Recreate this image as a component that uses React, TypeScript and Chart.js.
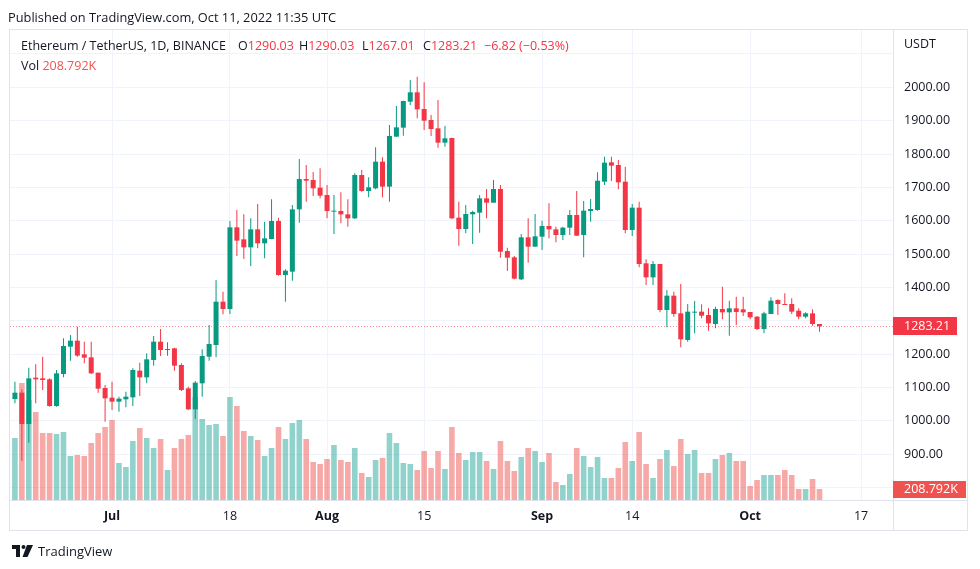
import React, { useEffect, useRef } from "react";
import { Chart, registerables } from "chart.js";

Chart.register(...registerables);

// Daily ETH/USDT candles, Jun 17 2022 .. Oct 11 2022
const opens = [
  1065, 1084, 990, 1129, 1127, 1124, 1044, 1140, 1222, 1240, 1199, 1190, 1144, 1098,
  1069, 1057, 1064, 1070, 1150, 1130, 1182, 1237, 1212, 1217, 1167, 1097, 1034, 1112, 1192, 1227,
  1357, 1335, 1580, 1544, 1520, 1574, 1532, 1545, 1599, 1437, 1447, 1634, 1725, 1722, 1699,
  1677, 1627, 1629, 1619, 1607, 1737, 1689, 1697, 1777, 1702, 1852, 1879, 1957, 1985, 1935,
  1902, 1877, 1834, 1848, 1609, 1575, 1619, 1624, 1667, 1654, 1695, 1509, 1490, 1424, 1550, 1522,
  1552, 1584, 1574, 1557, 1579, 1617, 1557, 1629, 1632, 1717, 1775, 1767, 1717, 1572,
  1639, 1472, 1430, 1470, 1332, 1375, 1322, 1242, 1324, 1327, 1317, 1290, 1335, 1325, 1337, 1334,
  1326, 1312, 1275, 1320, 1362, 1350, 1350, 1330, 1312, 1322, 1290.03,
];
const highs = [
  1117, 1094, 1159, 1169, 1192, 1127, 1152, 1247, 1257, 1282, 1237, 1237, 1144, 1107,
  1117, 1072, 1087, 1157, 1174, 1202, 1254, 1275, 1235, 1219, 1172, 1102, 1119, 1214, 1287, 1422,
  1387, 1599, 1632, 1619, 1607, 1650, 1597, 1664, 1609, 1454, 1647, 1785, 1767, 1746, 1757,
  1707, 1677, 1685, 1664, 1742, 1752, 1730, 1820, 1790, 1887, 1944, 1960, 2022, 2032, 2015,
  1917, 1962, 1884, 1849, 1657, 1647, 1630, 1677, 1695, 1722, 1707, 1519, 1494, 1560, 1607, 1620,
  1600, 1652, 1582, 1582, 1632, 1689, 1659, 1665, 1745, 1792, 1792, 1782, 1762, 1650,
  1657, 1484, 1479, 1470, 1392, 1387, 1410, 1350, 1359, 1349, 1337, 1342, 1402, 1360, 1372, 1372,
  1326, 1314, 1327, 1370, 1364, 1382, 1367, 1337, 1325, 1334, 1290.03,
];
const lows = [
  1052, 880, 934, 1052, 1092, 1042, 1042, 1130, 1180, 1192, 1172, 1140, 1084, 997,
  1032, 1027, 1040, 1044, 1074, 1112, 1165, 1194, 1195, 1150, 1089, 1032, 1005, 1072, 1180, 1190,
  1319, 1320, 1494, 1485, 1464, 1517, 1487, 1544, 1435, 1357, 1420, 1594, 1657, 1674, 1667,
  1607, 1560, 1592, 1582, 1605, 1687, 1670, 1694, 1670, 1657, 1852, 1855, 1947, 1907, 1872,
  1854, 1819, 1822, 1604, 1525, 1562, 1530, 1564, 1607, 1654, 1489, 1449, 1424, 1422, 1474, 1522,
  1512, 1547, 1535, 1542, 1557, 1554, 1490, 1597, 1630, 1707, 1719, 1694, 1562, 1554,
  1460, 1407, 1407, 1325, 1280, 1312, 1220, 1237, 1262, 1307, 1270, 1277, 1304, 1255, 1287, 1314,
  1304, 1272, 1262, 1320, 1317, 1347, 1320, 1304, 1307, 1285, 1267.01,
];
const closes = [
  1084, 990, 1127, 1124, 1122, 1044, 1142, 1224, 1240, 1195, 1189, 1142, 1096, 1067,
  1057, 1066, 1072, 1152, 1130, 1184, 1237, 1212, 1215, 1165, 1092, 1034, 1114, 1194, 1230, 1357,
  1335, 1580, 1540, 1520, 1574, 1532, 1547, 1599, 1437, 1450, 1634, 1725, 1720, 1697, 1675,
  1629, 1630, 1619, 1607, 1737, 1689, 1700, 1777, 1702, 1854, 1880, 1959, 1985, 1934, 1900,
  1875, 1834, 1847, 1607, 1575, 1620, 1626, 1667, 1654, 1695, 1507, 1489, 1426, 1550, 1522, 1553,
  1584, 1574, 1557, 1579, 1617, 1555, 1630, 1635, 1720, 1774, 1765, 1715, 1572, 1639,
  1470, 1430, 1470, 1332, 1375, 1320, 1244, 1327, 1327, 1315, 1292, 1335, 1325, 1337, 1326, 1325,
  1310, 1275, 1322, 1360, 1350, 1347, 1327, 1312, 1322, 1290.03, 1283.21,
];
// Volume in thousands of ETH
const volumes = [
  1178, 2223, 1900, 1672, 1273, 1273, 1254, 1292, 836, 855, 836, 1083, 1273, 1387,
  1520, 703, 627, 1121, 1368, 1178, 988, 1159, 570, 988, 1159, 1235, 1957, 1539, 1425, 1444,
  1216, 1957, 1786, 1311, 1216, 1140, 836, 988, 1387, 1159, 1463, 1520, 1159, 722, 684,
  779, 1045, 760, 722, 988, 513, 437, 760, 798, 1273, 1083, 703, 684, 570, 931,
  608, 931, 589, 1387, 893, 760, 912, 912, 741, 589, 1121, 741, 551, 817, 988, 931,
  722, 893, 342, 285, 494, 988, 836, 627, 817, 418, 418, 608, 1102, 741,
  1292, 684, 418, 779, 950, 646, 1159, 874, 950, 513, 513, 779, 855, 893, 741, 741,
  266, 380, 475, 475, 475, 570, 475, 209, 209, 399, 208.792,
];

const timeTickIndex = [14, 31, 45, 59, 76, 89, 106, 122];
const timeTickLabels = ["Jul", "18", "Aug", "15", "Sep", "14", "Oct", "17"];
const monthLabels = ["Jul", "Aug", "Sep", "Oct"];
const priceTicks = [800, 900, 1000, 1100, 1200, 1300, 1400, 1500, 1600, 1700, 1800, 1900, 2000, 2100];
const hiddenPriceTicks = [800, 1300, 2100];

const UP = "#089981";
const DOWN = "#f23645";
const VOL_UP = "rgba(38,166,154,0.5)";
const VOL_DOWN = "rgba(239,83,80,0.5)";
const TEXT = "#131722";
const GRID = "#f0f3fa";
const FONT = '"Open Sans", sans-serif';

export default function App() {
  const ref = useRef<HTMLCanvasElement | null>(null);

  useEffect(() => {
    const canvas = ref.current;
    if (!canvas) return;
    const idx = opens.map((_, i) => i);
    const isUp = idx.map((i) => closes[i] >= opens[i]);
    const candleColors = isUp.map((u) => (u ? UP : DOWN));
    const volColors = isUp.map((u) => (u ? VOL_UP : VOL_DOWN));
    const lastClose = closes[closes.length - 1];
    const lastVol = volumes[volumes.length - 1];

    const overlay = {
      id: "tvOverlay",
      beforeDatasetsDraw(chart: any) {
        const { ctx, chartArea, scales } = chart;
        const py = Math.round(scales.y.getPixelForValue(lastClose)) + 0.5;
        ctx.save();
        ctx.strokeStyle = "rgba(242,54,69,0.55)";
        ctx.lineWidth = 1;
        ctx.setLineDash([1, 2]);
        ctx.beginPath();
        ctx.moveTo(chartArea.left, py);
        ctx.lineTo(chartArea.right, py);
        ctx.stroke();
        ctx.restore();
      },
      afterDraw(chart: any) {
        const { ctx, chartArea, scales } = chart;
        ctx.save();
        ctx.strokeStyle = "#e0e3eb";
        ctx.lineWidth = 1;
        ctx.beginPath();
        ctx.moveTo(chartArea.right + 0.5, 30);
        ctx.lineTo(chartArea.right + 0.5, 530);
        ctx.moveTo(10, chartArea.bottom + 0.5);
        ctx.lineTo(968, chartArea.bottom + 0.5);
        ctx.stroke();
        ctx.strokeRect(9.5, 29.5, 958, 501);

        const py = scales.y.getPixelForValue(lastClose);
        ctx.fillStyle = DOWN;
        ctx.fillRect(chartArea.right, Math.round(py) - 9, 64, 18);
        const vy = scales.vol.getPixelForValue(lastVol);
        ctx.fillStyle = "#ef5350";
        ctx.fillRect(chartArea.right, Math.round(vy) - 8, 73, 17);

        ctx.font = `12.5px ${FONT}`;
        ctx.textBaseline = "middle";
        ctx.textAlign = "left";
        ctx.fillStyle = "#ffffff";
        ctx.fillText(lastClose.toFixed(2), chartArea.right + 11, Math.round(py) + 0.5);
        ctx.fillText(lastVol.toFixed(3) + "K", chartArea.right + 11, Math.round(vy) + 0.5);
        ctx.fillStyle = TEXT;
        ctx.fillText("USDT", chartArea.right + 11, 44);
        ctx.restore();
      },
    };

    const chart = new Chart(canvas, {
      type: "bar",
      data: {
        datasets: [
          {
            type: "bar",
            label: "Volume",
            yAxisID: "vol",
            data: idx.map((i) => ({ x: i, y: volumes[i] })),
            backgroundColor: volColors,
            barThickness: 5.6,
            grouped: false,
            inflateAmount: 0,
            order: 3,
          } as any,
          {
            type: "bar",
            label: "Wick",
            yAxisID: "y",
            data: idx.map((i) => ({ x: i, y: [lows[i], highs[i]] })),
            backgroundColor: candleColors,
            barThickness: 1,
            grouped: false,
            inflateAmount: 0,
            order: 2,
          } as any,
          {
            type: "bar",
            label: "Body",
            yAxisID: "y",
            data: idx.map((i) => ({ x: i, y: [opens[i], closes[i]] })),
            backgroundColor: candleColors,
            barThickness: 5,
            minBarLength: 1,
            grouped: false,
            inflateAmount: 0,
            order: 1,
          } as any,
        ],
      },
      options: {
        animation: false,
        responsive: false,
        events: [],
        layout: { padding: { left: 10, top: 30, right: 12, bottom: 39 } },
        plugins: { legend: { display: false }, tooltip: { enabled: false } },
        scales: {
          x: {
            type: "linear",
            min: -0.71,
            max: 126.6,
            offset: false,
            grid: { color: GRID, drawTicks: false, offset: false },
            border: { display: false },
            afterBuildTicks: (s: any) => {
              s.ticks = timeTickIndex.map((v) => ({ value: v }));
            },
            afterFit: (s: any) => {
              s.height = 30;
            },
            ticks: {
              autoSkip: false,
              maxRotation: 0,
              padding: 9,
              color: TEXT,
              font: (c: any) => ({
                family: FONT,
                size: 12.5,
                weight: monthLabels.includes(timeTickLabels[c.index]) ? "bold" : "normal",
              }),
              callback: (_v: any, i: number) => timeTickLabels[i],
            },
          } as any,
          y: {
            type: "linear",
            position: "right",
            min: 762,
            max: 2172,
            grid: { color: GRID, drawTicks: false },
            border: { display: false },
            afterBuildTicks: (s: any) => {
              s.ticks = priceTicks.map((v) => ({ value: v }));
            },
            afterFit: (s: any) => {
              s.width = 75;
            },
            ticks: {
              padding: 11,
              color: TEXT,
              font: { family: FONT, size: 12.5 },
              callback: (v: any) => (hiddenPriceTicks.includes(v) ? "" : Number(v).toFixed(2)),
            },
          } as any,
          vol: {
            type: "linear",
            display: false,
            min: 0,
            max: 8930,
          },
        },
      },
      plugins: [overlay as any],
    });
    return () => chart.destroy();
  }, []);

  const red = { color: DOWN };
  const item = (left: number, top: number): React.CSSProperties => ({
    position: "absolute",
    left,
    top,
    whiteSpace: "nowrap",
    lineHeight: "18px",
  });

  return (
    <div
      style={{
        position: "fixed",
        left: 0,
        top: 0,
        width: 980,
        height: 569,
        background: "#ffffff",
        overflow: "hidden",
        fontFamily: FONT,
        color: TEXT,
      }}
    >
      <canvas ref={ref} width={980} height={569} style={{ position: "absolute", left: 0, top: 0, width: 980, height: 569 }} />
      <div style={{ ...item(8, 8), fontSize: 12.8 }}>Published on TradingView.com, Oct 11, 2022 11:35 UTC</div>
      <div style={{ ...item(21, 37), fontSize: 12.5 }}>Ethereum / TetherUS, 1D, BINANCE</div>
      <div style={{ ...item(238, 37), fontSize: 12.5 }}>O<span style={red}>1290.03</span></div>
      <div style={{ ...item(299, 37), fontSize: 12.5 }}>H<span style={red}>1290.03</span></div>
      <div style={{ ...item(362, 37), fontSize: 12.5 }}>L<span style={red}>1267.01</span></div>
      <div style={{ ...item(423, 37), fontSize: 12.5 }}>C<span style={red}>1283.21</span></div>
      <div style={{ ...item(484, 37), fontSize: 12.5, color: DOWN }}>−6.82 (−0.53%)</div>
      <div style={{ ...item(21, 57), fontSize: 12.5 }}>Vol <span style={{ color: "#ef5350" }}>208.792K</span></div>
      <div style={{ position: "absolute", left: 12, top: 544, display: "flex", alignItems: "center", gap: 4 }}>
        <svg width="22" height="12" viewBox="0 0 22 12">
          <rect x="0" y="0" width="8" height="4" fill={TEXT} />
          <rect x="4" y="0" width="4" height="12" fill={TEXT} />
          <circle cx="11.5" cy="2" r="2" fill={TEXT} />
          <polygon points="15,0 21,0 15.5,12 10.5,12" fill={TEXT} />
        </svg>
        <span style={{ fontSize: 13, lineHeight: "14px" }}>TradingView</span>
      </div>
    </div>
  );
}
